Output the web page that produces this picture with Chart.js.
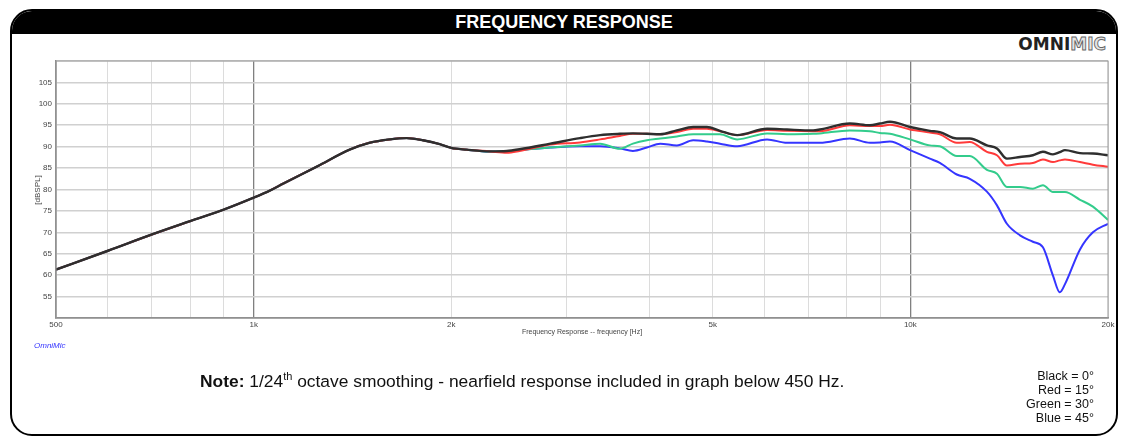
<!DOCTYPE html>
<html>
<head>
<meta charset="utf-8">
<script src="https://cdn.jsdelivr.net/npm/chart.js@4"></script>
<style>
  body { margin:0; width:1127px; height:440px; background:#fff; position:relative; overflow:hidden; font-family:"Liberation Sans", Arial, sans-serif; }
  #frame { position:absolute; left:10px; top:9px; width:1104px; height:423px; border:2px solid #000; border-radius:22px; overflow:hidden; }
  #bar { position:absolute; left:0; top:0; width:100%; height:23px; background:#000; color:#fff; text-align:center;
         font-family:"Liberation Sans Narrow", "Liberation Sans", Arial, sans-serif; font-weight:bold; font-size:18px; line-height:23px; }
  #logo { position:absolute; right:21px; top:34px; font-family:"DejaVu Sans", sans-serif; font-weight:bold; font-size:17px; letter-spacing:0px; }
  #logo .a { color:#222; }
  #logo .b { color:#e4e4e4; -webkit-text-stroke:0.9px #666; }
  canvas { position:absolute; left:0; top:0; }
  .t { position:absolute; white-space:nowrap; }
  #ylab { left:37px; top:190px; font-size:8px; color:#444; transform:translate(-50%,-50%) rotate(-90deg); }
  #xlab { left:582px; top:328px; font-size:7px; color:#444; transform:translateX(-50%); }
  #omni { left:34px; top:341px; font-size:8px; color:#3333ff; font-style:italic; }
  #note { left:200px; top:370px; font-size:17.4px; color:#111; }
  #note sup { font-size:11px; }
  #legend { right:33px; top:369px; font-size:12.5px; line-height:14px; text-align:right; color:#111; }
</style>
</head>
<body>
<div id="frame">
  <div id="bar">FREQUENCY RESPONSE</div>
</div>
<div id="logo"><span class="a">OMNI</span><span class="b">MIC</span></div>
<canvas id="fr" width="1127" height="440"></canvas>
<div class="t" id="ylab">[dBSPL]</div>
<div class="t" id="xlab">Frequency Response -- frequency [Hz]</div>
<div class="t" id="omni">OmniMic</div>
<div class="t" id="note"><b>Note:</b> 1/24<sup>th</sup> octave smoothing - nearfield response included in graph below 450 Hz.</div>
<div class="t" id="legend">Black = 0°<br>Red = 15°<br>Green = 30°<br>Blue = 45°</div>
<script>
// frequencies (Hz) that the curves were read at
var freqs = [500, 600, 700, 800, 900, 1000, 1060, 1110, 1250, 1400, 1500, 1610, 1710, 1810, 1920, 2000, 2110, 2290,
  2430, 2540, 2830, 3140, 3370, 3610, 3780, 3970, 4160, 4410, 4670, 4900, 5130, 5450, 6050, 6490, 7110, 7280,
  8090, 8680, 8990, 9310, 9990, 10710, 11090, 11770, 12320, 13080, 13550, 14030, 14690, 15370, 15920, 16490,
  16890, 17200, 18130, 18970, 20000];

// below ~2.3k all four angles are the same curve
var common = [61.3, 65.7, 69.5, 72.6, 75.3, 78.1, 79.8, 81.4, 85.4, 89.3, 90.9, 91.7, 92.0, 91.5, 90.6, 89.7, 89.3, 88.9];

var black = common.concat([89.0, 89.4, 90.7, 92.0, 92.7, 93.0, 93.1, 93.0, 92.9, 93.8, 94.6, 94.6, 93.7, 92.7, 94.2, 94.0,
  93.8, 94.0, 95.4, 95.0, 95.4, 95.8, 94.6, 93.7, 93.4, 91.9, 91.9, 90.3, 89.6, 87.2, 87.6, 88.0, 88.8, 88.2,
  88.7, 89.2, 88.5, 88.4, 88.0]);
var red = common.concat([88.6, 89.0, 90.5, 91.0, 91.7, 92.5, 93.0, 93.0, 92.9, 93.4, 94.2, 94.2, 93.6, 92.7, 93.9, 93.7,
  93.6, 93.6, 95.0, 94.8, 94.8, 95.1, 94.0, 93.3, 92.9, 90.9, 91.1, 88.8, 88.0, 85.6, 86.0, 86.2, 87.0, 86.4,
  86.8, 87.0, 86.4, 85.8, 85.3]);
var green = common.concat([88.9, 89.2, 89.8, 90.3, 90.7, 89.5, 90.7, 91.5, 91.9, 92.4, 92.9, 92.9, 92.9, 91.7, 93.1, 92.9,
  93.0, 93.1, 93.8, 93.6, 93.2, 93.0, 91.7, 90.3, 90.1, 87.8, 87.8, 84.6, 83.7, 80.6, 80.6, 80.2, 81.0, 79.4,
  79.4, 79.4, 77.6, 76.0, 72.9]);
var blue = common.concat([88.9, 89.2, 89.8, 90.1, 90.1, 89.6, 89.0, 89.8, 90.7, 90.3, 91.5, 91.2, 90.7, 90.1, 91.7, 90.9,
  90.9, 90.9, 91.9, 90.9, 91.0, 91.2, 89.2, 87.2, 86.2, 83.5, 82.5, 79.5, 76.3, 72.0, 69.3, 67.8, 66.5, 59.9,
  56.0, 57.9, 66.0, 70.0, 72.0]);

var xTicks = [500, 600, 700, 800, 900, 1000, 2000, 3000, 4000, 5000, 6000, 7000, 8000, 9000, 10000, 20000];
var xLabels = {500: '500', 1000: '1k', 2000: '2k', 5000: '5k', 10000: '10k', 20000: '20k'};
var yLabels = [55, 60, 65, 70, 75, 80, 85, 90, 95, 100, 105];

function pts(vals) {
  return freqs.map(function (f, i) { return {x: f, y: vals[i]}; });
}
function ds(label, vals, color, w) {
  return {label: label, data: pts(vals), borderColor: color, borderWidth: w, pointRadius: 0,
          cubicInterpolationMode: 'monotone', fill: false};
}

var ctx = document.getElementById('fr').getContext('2d');
var chart = new Chart(ctx, {
  type: 'line',
  data: {
    datasets: [
      ds('Black = 0°', black, '#2e2e2e', 2.4),
      ds('Red = 15°', red, '#ff3a3a', 2),
      ds('Green = 30°', green, '#33cc8c', 2),
      ds('Blue = 45°', blue, '#3535ff', 2)
    ]
  },
  options: {
    responsive: false,
    animation: false,
    layout: {padding: {left: 10, top: 61, right: 19, bottom: 0}},
    plugins: {legend: {display: false}, tooltip: {enabled: false}},
    scales: {
      x: {
        type: 'logarithmic', min: 500, max: 20000,
        afterBuildTicks: function (s) { s.ticks = xTicks.map(function (v) { return {value: v}; }); },
        afterFit: function (s) { s.height = 122; },
        ticks: {
          autoSkip: false, maxRotation: 0, padding: 2, color: '#444',
          font: {family: 'Liberation Sans', size: 8},
          callback: function (v) { return xLabels[v] || ''; }
        },
        grid: {
          drawTicks: false,
          color: function (c) { return (c.tick && (c.tick.value === 1000 || c.tick.value === 10000)) ? '#808080' : '#dcdcdc'; },
          lineWidth: function (c) { return (c.tick && (c.tick.value === 1000 || c.tick.value === 10000)) ? 1.3 : 1; }
        },
        border: {color: '#888', width: 1.5}
      },
      y: {
        min: 50, max: 110,
        afterFit: function (s) { s.width = 46; },
        ticks: {
          stepSize: 5, padding: 4, color: '#444',
          font: {family: 'Liberation Sans', size: 8},
          callback: function (v) { return yLabels.indexOf(v) >= 0 ? String(v) : ''; }
        },
        grid: {drawTicks: false, color: '#d0d0d0', lineWidth: 1.6},
        border: {color: '#888', width: 1.5}
      }
    }
  },
  plugins: [{
    id: 'boxTop',
    afterDraw: function (c) {
      var a = c.chartArea, g = c.ctx;
      g.save();
      g.strokeStyle = '#999';
      g.lineWidth = 1;
      g.strokeRect(a.left, a.top, a.right - a.left, a.bottom - a.top);
      g.restore();
    }
  }]
});
</script>
</body>
</html>
